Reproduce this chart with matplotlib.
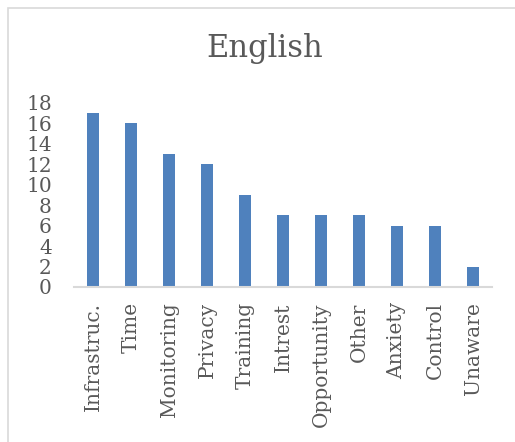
import matplotlib.pyplot as plt
from matplotlib.patches import Rectangle

categories = ["Infrastruc.", "Time", "Monitoring", "Privacy", "Training", "Intrest",
              "Opportunity", "Other", "Anxiety", "Control", "Unaware"]
counts = [17, 16, 13, 12, 9, 7, 7, 7, 6, 6, 2]
y_ticks = list(range(0, 19, 2))

text_color = "#595959"
bar_color = "#4F81BD"

plt.rcParams['font.family'] = ['DejaVu Serif']

fig = plt.figure(figsize=(5.15, 4.42), dpi=100)

# chart area border (runs off the right and bottom edges)
fig.patches.append(Rectangle((8 / 515, -0.1), 1.2, 1 - 8 / 442 + 0.1,
                             transform=fig.transFigure, fill=False,
                             edgecolor="#D9D9D9", linewidth=1.2))

ax = fig.add_axes([74 / 515, 1 - 287 / 442, 418 / 515, 184 / 442])
ax.bar(range(len(categories)), counts, width=0.32, color=bar_color)
ax.set_xlim(-0.5, len(categories) - 0.5)
ax.set_ylim(0, 18)
ax.set_yticks(y_ticks)
ax.set_xticks(range(len(categories)))
ax.set_xticklabels(categories, rotation=90)
ax.tick_params(axis='both', length=0, labelsize=14.5, colors=text_color)
ax.tick_params(axis='x', pad=11)
ax.tick_params(axis='y', pad=16)
for side in ["top", "right", "left"]:
    ax.spines[side].set_visible(False)
ax.spines["bottom"].set_color("#D9D9D9")
ax.spines["bottom"].set_linewidth(1.5)

fig.text(265 / 515, 1 - 49 / 442, "English", ha="center", va="center",
         fontsize=22, color=text_color)

fig.savefig("out.png", dpi=100)
